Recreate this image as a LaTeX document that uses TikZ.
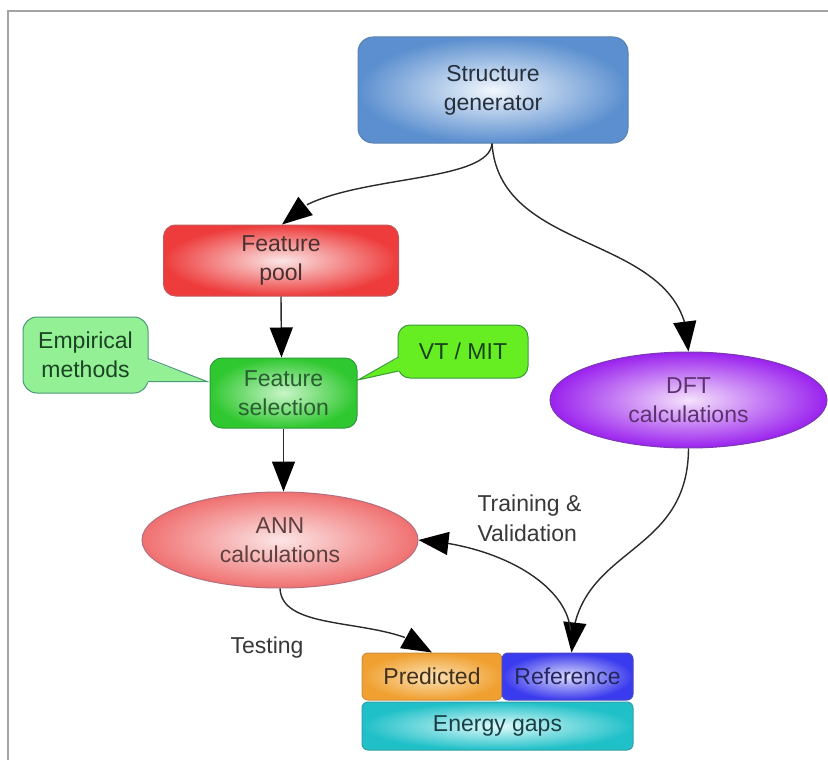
\documentclass[tikz,border=0pt]{standalone}
\usepackage{fontspec}
\setmainfont{Liberation Sans}
\usetikzlibrary{arrows.meta,bending,shapes.geometric}
\definecolor{frameg}{HTML}{A4A4A4}
\definecolor{sgout}{HTML}{5B8FCF}\definecolor{sgin}{HTML}{F2F7FD}\definecolor{sgbd}{HTML}{5A82B0}\definecolor{sgtx}{HTML}{26303C}
\definecolor{fpout}{HTML}{EE3C3C}\definecolor{fpin}{HTML}{FBE6E6}\definecolor{fpbd}{HTML}{C05A5A}\definecolor{fptx}{HTML}{4A3030}
\definecolor{fsout}{HTML}{30C830}\definecolor{fsin}{HTML}{C8F5C8}\definecolor{fsbd}{HTML}{2E9A3A}\definecolor{fstx}{HTML}{285E30}
\definecolor{empf}{HTML}{94F094}\definecolor{empbd}{HTML}{4A9A7A}\definecolor{emptx}{HTML}{1A4424}
\definecolor{vtf}{HTML}{66EE22}\definecolor{vtbd}{HTML}{3A9A3A}\definecolor{vttx}{HTML}{1A421A}
\definecolor{dftout}{HTML}{9A22EE}\definecolor{dftin}{HTML}{F5E2FB}\definecolor{dftbd}{HTML}{7A3AB0}\definecolor{dfttx}{HTML}{5E3270}
\definecolor{annout}{HTML}{F07070}\definecolor{annin}{HTML}{FCE6E6}\definecolor{annbd}{HTML}{B07080}\definecolor{anntx}{HTML}{5E4040}
\definecolor{prout}{HTML}{F0A030}\definecolor{prin}{HTML}{FBE2B5}\definecolor{prbd}{HTML}{D09040}\definecolor{prtx}{HTML}{40301C}
\definecolor{rfout}{HTML}{3A3AEE}\definecolor{rfin}{HTML}{DCDCFB}\definecolor{rfbd}{HTML}{4A4AC0}\definecolor{rftx}{HTML}{24245E}
\definecolor{egout}{HTML}{20C0C8}\definecolor{egin}{HTML}{E0FBFB}\definecolor{egbd}{HTML}{30A0A8}\definecolor{egtx}{HTML}{1A4046}
\definecolor{linec}{HTML}{2A2A2A}
\begin{document}
\begin{tikzpicture}[x=1pt,y=-1pt,
  lbl/.style={font=\fontsize{23}{29}\selectfont, align=center},
  rbox/.style={lbl, draw, line width=1pt, rounded corners=#1, inner sep=0pt},
  rbox/.default=10pt,
  ell/.style={lbl, ellipse, draw, line width=1pt, inner sep=0pt},
  conn/.style={line width=1.4pt, draw=linec, -{Triangle[length=30pt,width=23pt,fill=black,color=black]}},
  txt/.style={font=\fontsize{23}{30}\selectfont, text=black!78}
]
\useasboundingbox (0,0) rectangle (828,760);
% frame
\draw[frameg, line width=2.2pt] (7,11) -- (828,11);
\draw[frameg, line width=2.2pt] (8,11) -- (8,760);

% nodes
\node[rbox=15pt, minimum width=270pt, minimum height=106pt, shade, inner color=sgin, outer color=sgout, draw=sgbd, text=sgtx] (sg) at (493,90) {Structure\\generator};
\node[rbox=12pt, minimum width=235pt, minimum height=71pt, shade, inner color=fpin, outer color=fpout, draw=fpbd, text=fptx] (fp) at (281,260.5) {Feature\\pool};
\node[rbox=12pt, minimum width=147pt, minimum height=70pt, shade, inner color=fsin, outer color=fsout, draw=fsbd, text=fstx] (fs) at (283.5,393) {Feature\\selection};

% Empirical methods callout
\node[rbox=14pt, minimum width=125pt, minimum height=76pt, fill=empf, draw=empbd, text=emptx] (emp) at (85.5,355) {Empirical\\methods};
\fill[empf] (146,359) -- (207,381.5) -- (146,382) -- cycle;
\draw[empbd, line width=1pt] (148,358.5) -- (207,381.5) -- (148,381.5);

% VT / MIT callout
\node[rbox=12pt, minimum width=130pt, minimum height=53pt, fill=vtf, draw=vtbd, text=vttx] (vt) at (463,351.5) {VT / MIT};
\fill[vtf] (400,357) -- (358,380) -- (400,371) -- cycle;
\draw[vtbd, line width=1pt] (398.5,357) -- (358,380) -- (398.5,371);

\node[ell, minimum width=277pt, minimum height=96pt, shade, inner color=dftin, outer color=dftout, draw=dftbd, text=dfttx] (dft) at (688.5,400) {DFT\\calculations};
\node[ell, minimum width=276pt, minimum height=96pt, shade, inner color=annin, outer color=annout, draw=annbd, text=anntx] (ann) at (280,540) {ANN\\calculations};

\node[rbox=6pt, minimum width=140pt, minimum height=47pt, shade, inner color=prin, outer color=prout, draw=prbd, text=prtx] (pred) at (432,676.5) {Predicted};
\node[rbox=6pt, minimum width=131pt, minimum height=47pt, shade, inner color=rfin, outer color=rfout, draw=rfbd, text=rftx] (ref) at (567.5,676.5) {Reference};
\node[rbox=6pt, minimum width=271pt, minimum height=48pt, shade, inner color=egin, outer color=egout, draw=egbd, text=egtx] (eg) at (497.5,726) {Energy gaps};

% labels
\node[txt, align=left, anchor=west] (tv) at (474,518) {Training \&\\Validation};
\node[txt] (tst) at (267,648) {Testing};

% connectors
\draw[conn] ([xshift=-1pt]sg.south) .. controls (489,188) and (318,172) .. ([xshift=1pt]fp.north);
\draw[conn] ([xshift=-1pt]sg.south) .. controls (500,260) and (690,230) .. (dft.north);
\draw[conn] (fp.south) -- ([xshift=-2pt]fs.north);
\draw[conn] (fs.south) -- ([xshift=3.5pt]ann.north);
\draw[conn] (dft.south) .. controls (688,560) and (572,545) .. ([xshift=4pt]ref.north);
\draw[conn] ([xshift=3pt,yshift=22pt]ref.north) .. controls (567,585) and (500,545) .. (ann.east);
\draw[conn] (ann.south) .. controls (282,635) and (390,615) .. (pred.north);
\end{tikzpicture}
\end{document}
